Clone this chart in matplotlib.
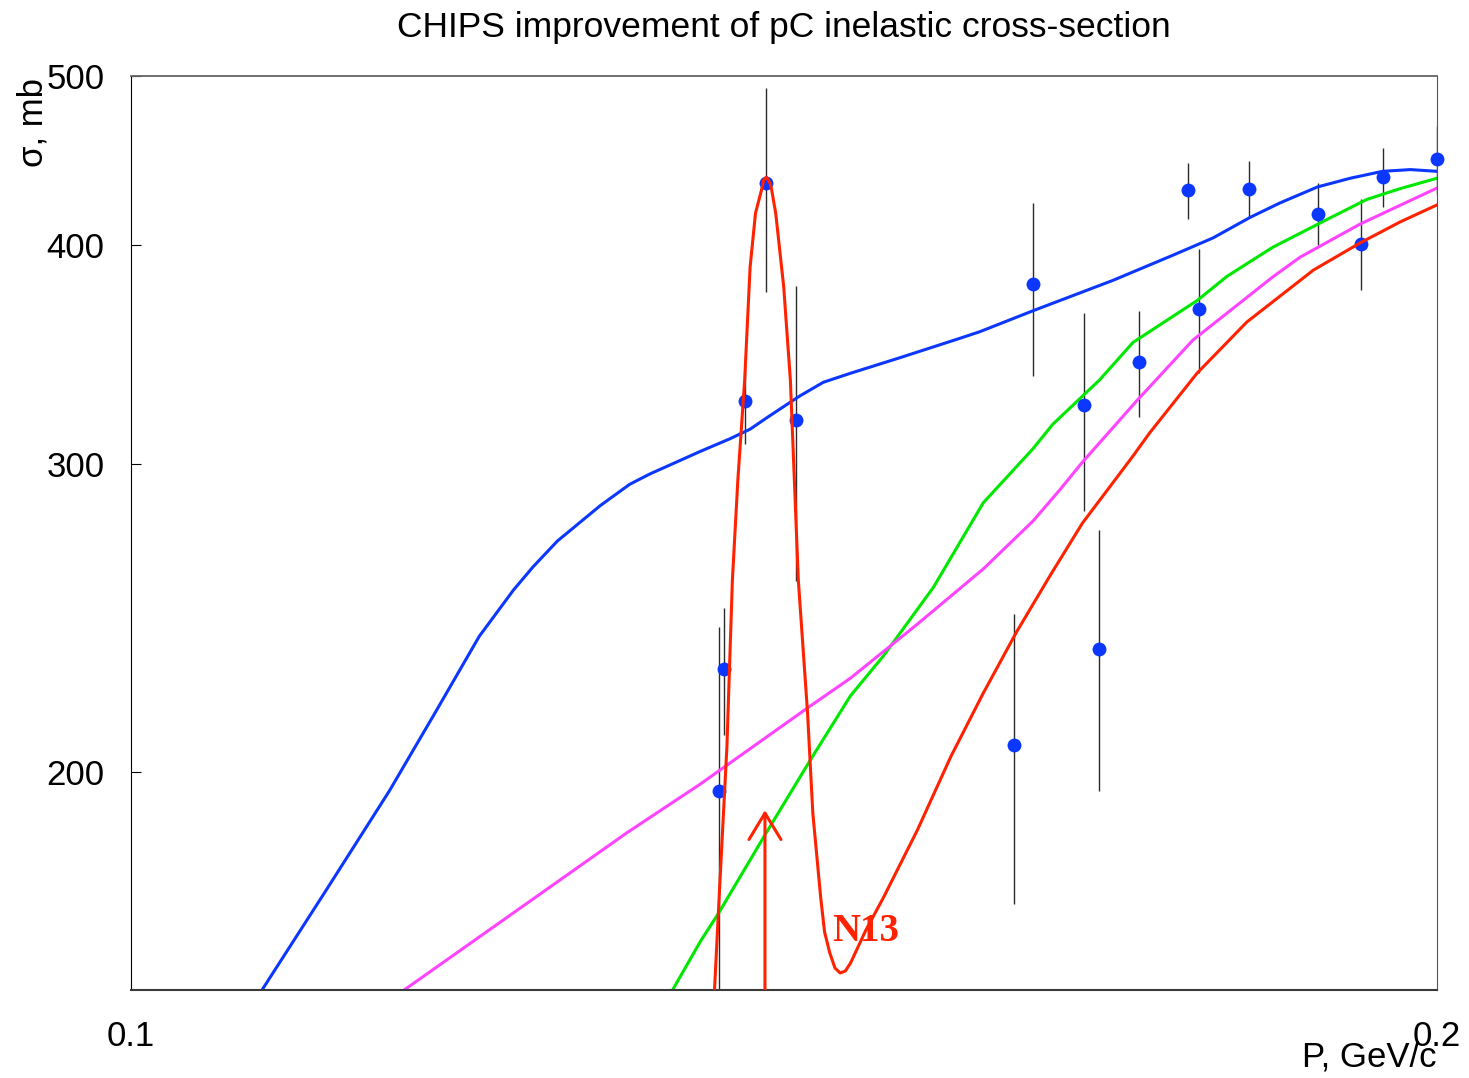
import matplotlib
matplotlib.use('Agg')
import matplotlib.pyplot as plt
from matplotlib.patches import FancyArrowPatch

plt.rcParams['font.family'] = ['Liberation Sans', 'DejaVu Sans']

# Експериментальні точки: імпульс (GeV/c), переріз (mb), похибка (mb)
p_data = [0.1366, 0.1370, 0.1385, 0.1401, 0.1423, 0.1598, 0.1614, 0.1658, 0.1672,
          0.1707, 0.1752, 0.1763, 0.1810, 0.1878, 0.1921, 0.1943, 0.2000]
sigma_data = [195, 229, 326, 434, 318, 207, 380, 324, 235,
              343, 430, 368, 431, 417, 401, 438, 448]
sigma_err = [47, 19, 18, 58, 61, 39, 43, 42, 40,
             24, 16, 30, 16, 17, 24, 17, 20]

# Криві моделей
p_blue = [0.1072, 0.1109, 0.1147, 0.1175, 0.1203, 0.1225, 0.1238, 0.1254, 0.1283, 0.1303,
          0.1317, 0.1353, 0.1374, 0.1389, 0.1402, 0.1426, 0.1444, 0.1465, 0.1504, 0.1553,
          0.1569, 0.1614, 0.1684, 0.1739, 0.1776, 0.1811, 0.1840, 0.1877, 0.1910, 0.1943,
          0.1972, 0.2000]
s_blue = [150, 171, 195, 216, 239, 254, 262, 271, 284, 292,
          296, 305, 310, 314, 319, 328, 334, 338, 345, 354,
          357, 367, 382, 395, 404, 415, 423, 432, 437, 441,
          442, 441]

p_green = [0.1333, 0.1353, 0.1366, 0.1400, 0.1434, 0.1465, 0.1491, 0.1531, 0.1572, 0.1614,
           0.1631, 0.1672, 0.1702, 0.1761, 0.1789, 0.1833, 0.1887, 0.1927, 0.1961, 0.2000]
s_green = [150, 160, 166, 184, 203, 221, 233, 255, 285, 306,
           316, 335, 352, 372, 384, 399, 414, 425, 431, 437]

p_magenta = [0.1156, 0.1301, 0.1353, 0.1372, 0.1432, 0.1465, 0.1518, 0.1572, 0.1614,
             0.1637, 0.1657, 0.1706, 0.1757, 0.1833, 0.1860, 0.1920, 0.2000]
s_magenta = [150.0, 184.5, 196.8, 201.7, 217.5, 226.2, 242.9, 261.2, 278.2,
             289.8, 300.7, 326.3, 353.1, 383.7, 393.9, 411.4, 431.4]

p_red = [0.1363, 0.1367, 0.1372, 0.1376, 0.1380, 0.1385, 0.1389, 0.1393, 0.1398, 0.1399,
         0.1401, 0.1402, 0.1404, 0.1405, 0.1408, 0.1414, 0.1419, 0.1422, 0.1425, 0.1432,
         0.1436, 0.1442, 0.1445, 0.1449, 0.1453, 0.1457, 0.1461, 0.1465, 0.1477, 0.1491,
         0.1518, 0.1545, 0.1572, 0.1600, 0.1629, 0.1657, 0.1679, 0.1702, 0.1717, 0.1761,
         0.1808, 0.1873, 0.1920, 0.1961, 0.2000]
s_red = [150.0, 173.4, 206.6, 257.4, 293.7, 335.0, 388.8, 417.4, 432.0, 436.0,
         437.7, 436.6, 433.7, 430.3, 417.4, 378.7, 335.0, 293.7, 257.4, 216.1,
         189.4, 169.5, 161.9, 157.5, 154.4, 153.4, 153.8, 155.4, 162.3, 169.5,
         185.2, 203.9, 221.8, 240.4, 259.1, 277.5, 289.8, 303.1, 312.4, 338.1,
         361.6, 387.2, 401.3, 412.5, 421.9]

# Поріг N13
p_n13 = 0.1400
s_arrow = 190.1

y_ticks = [200, 300, 400, 500]
x_ticks = [0.1, 0.2]

fig = plt.figure(figsize=(14.69, 10.78), dpi=100)
ax = fig.add_axes([131 / 1469, 1 - 990 / 1078, 1306 / 1469, 914 / 1078])
ax.set_xscale('log')
ax.set_yscale('log')
ax.set_xlim(0.1, 0.2)
ax.set_ylim(150, 500)

# Точки з похибками
ax.errorbar(p_data, sigma_data, yerr=sigma_err, fmt='none', ecolor='#2a2a2a',
            elinewidth=1.0, capsize=0, zorder=2)
ax.plot(p_data, sigma_data, 'o', color='#0b37ff', markersize=10, markeredgewidth=0,
        zorder=3, clip_on=False)

ax.plot(p_blue, s_blue, color='#0b37ff', lw=2.2, zorder=2.5)
ax.plot(p_green, s_green, color='#00e800', lw=2.2, zorder=2.5)
ax.plot(p_magenta, s_magenta, color='#ff44ff', lw=2.2, zorder=2.5)
ax.plot(p_red, s_red, color='#ff2200', lw=2.2, zorder=4)

# Стрілка та підпис N13
arrow = FancyArrowPatch((p_n13, 150), (p_n13, s_arrow),
                        arrowstyle='->,head_length=19,head_width=11.5',
                        mutation_scale=1, color='#ff2200', lw=2.2,
                        shrinkA=0, shrinkB=0, zorder=4)
ax.add_patch(arrow)
ax.text(0.1451, 160, 'N13', color='#ff2200', fontsize=28, fontweight='bold',
        family=['Liberation Serif', 'DejaVu Serif'], ha='left', va='baseline', zorder=5)

# Осі
ax.minorticks_off()
ax.set_yticks(y_ticks)
ax.set_yticklabels([str(v) for v in y_ticks])
ax.set_xticks(x_ticks)
ax.set_xticklabels(['0.1', '0.2'])
ax.tick_params(axis='y', which='both', direction='in', length=7.2, width=0.8,
               labelsize=25, pad=19, color='black')
ax.tick_params(axis='x', which='both', length=0, labelsize=25, pad=21.5)
ax.minorticks_off()

ax.spines['left'].set_color('black')
ax.spines['left'].set_linewidth(0.8)
ax.spines['bottom'].set_color('#3a3a3a')
ax.spines['bottom'].set_linewidth(1.5)
ax.spines['top'].set_color('#666666')
ax.spines['top'].set_linewidth(1.3)
ax.spines['right'].set_color('#555555')
ax.spines['right'].set_linewidth(0.8)

ax.set_title('CHIPS improvement of pC inelastic cross-section', fontsize=25.5, pad=28)
ax.text(1.0, -0.0842, 'P, GeV/c', transform=ax.transAxes, fontsize=25,
        ha='right', va='baseline')
ax.text(-0.0750, 0.998, 'σ, mb', transform=ax.transAxes, fontsize=25,
        rotation=90, ha='center', va='top')

plt.savefig('out.png', dpi=100)
